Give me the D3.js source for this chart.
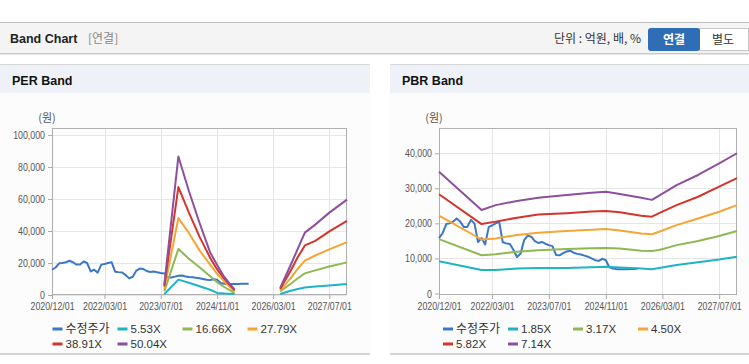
<!DOCTYPE html>
<html>
<head>
<meta charset="utf-8">
<script src="https://cdn.jsdelivr.net/npm/d3@7"></script>
<style>
    body { margin: 0; background: #fff; }
    svg { display: block; }
</style>
</head>
<body>
<svg id="chart" width="749" height="364"></svg>
<script>
// 수정주가 (monthly, from 2020/12)
const priceStart = '2020/12/01';
const price = [
    15800, 17200, 19800, 20000, 20500, 21400, 20500, 19000, 19000, 21000,
    20000, 14700, 15800, 14000, 19000, 19400, 20000, 20500, 14600, 14300,
    14100, 12400, 10400, 11400, 15200, 16500, 16200, 15000, 14400, 14700,
    14200, 13800, 13500, 11000, 10900, 11500, 12000, 12200, 11600, 11300,
    11100, 10800, 10500, 10000, 9500, 9300, 9900, 9500, 7500, 7100,
    6950, 6950, 6950, 6950, 7000, 7000, 7100
];

const xTicks = ['2020/12/01', '2022/03/01', '2023/07/01', '2024/11/01', '2026/03/01', '2027/07/01'];

// PER band
const perNames = ['수정주가', '5.53X', '16.66X', '27.79X', '38.91X', '50.04X'];
const perDates = ['2023/08', '2023/12', '2024/03', '2024/06', '2024/09', '2024/11', '2025/01', '2025/04', '2025/10',
                  '2026/05', '2026/08', '2026/10', '2026/12', '2027/03', '2027/07', '2027/12'];
const per553  = [500, 9600, 7700, 5500, 3300, 1300, 900, 600, null, 600, 2700, 3800, 4700, 5300, 6000, 6900];
const per1666 = [2250, 28750, 22700, 17300, 11700, 8000, 5000, 1300, null, 2250, 7000, 10500, 13500, 15400, 17800, 20400];
const per2779 = [3750, 48100, 38800, 27900, 19000, 13200, 8500, 2300, null, 2900, 10500, 16500, 21500, 24700, 28500, 33100];
const per3891 = [5400, 67500, 51500, 36500, 23300, 16000, 10300, 2900, null, 3750, 15300, 23700, 31000, 33800, 39800, 46400];
const per5004 = [6400, 86600, 65000, 45200, 26600, 18800, 11300, 3300, null, 4400, 18900, 29000, 39000, 44000, 51500, 59600];
const perYTicks = [0, 20000, 40000, 60000, 80000, 100000];

// PBR band
const pbrNames = ['수정주가', '1.85X', '3.17X', '4.50X', '5.82X', '7.14X'];
const pbrDates = ['2020/12', '2021/12', '2022/04', '2022/10', '2023/04', '2023/12', '2024/07', '2024/11',
                  '2025/03', '2025/09', '2025/12', '2026/02', '2026/07', '2027/01', '2027/07', '2027/12'];
const pbr185 = [9200, 6700, 6700, 7100, 7300, 7300, 7500, 7600, 7400, 7100, 6900, 7300, 8100, 8900, 9700, 10500];
const pbr317 = [15500, 10900, 11200, 11900, 12300, 12700, 12900, 13000, 12800, 12200, 12100, 12400, 13800, 15000, 16400, 17800];
const pbr450 = [22200, 15400, 15700, 16700, 17300, 17800, 18200, 18400, 18000, 17100, 16900, 17600, 19500, 21400, 23300, 25200];
const pbr582 = [28300, 19800, 20500, 21600, 22500, 22900, 23400, 23500, 23200, 22200, 21900, 22900, 25200, 27600, 30500, 32900];
const pbr714 = [34700, 23800, 25200, 26400, 27300, 28100, 28700, 29000, 28400, 27300, 26700, 27900, 30900, 33800, 37100, 40000];
const pbrYTicks = [0, 10000, 20000, 30000, 40000];

const colors = ['#3a77c9', '#1fb3c8', '#8fb852', '#f4a533', '#d3352c', '#8e4f9d'];

const parseDay   = d3.timeParse('%Y/%m/%d');
const parseMonth = d3.timeParse('%Y/%m');
const textFont   = "'Liberation Sans', Arial, 'Noto Sans CJK KR', sans-serif";
const krFont     = "'Noto Sans CJK KR', 'Liberation Sans', sans-serif";

const svg = d3.select('#chart');

// top bar
svg.append('rect').attr('x', 0).attr('y', 22).attr('width', 749).attr('height', 31).attr('fill', '#f4f4f4');
svg.append('line').attr('x1', 0).attr('x2', 749).attr('y1', 22.5).attr('y2', 22.5).attr('stroke', '#bdbdbd');
svg.append('line').attr('x1', 0).attr('x2', 749).attr('y1', 53.5).attr('y2', 53.5).attr('stroke', '#c9c9c9');
svg.append('line').attr('x1', 0).attr('x2', 749).attr('y1', 54.5).attr('y2', 54.5).attr('stroke', '#e8e8e8');
svg.append('text').attr('x', 10).attr('y', 43).attr('font-family', textFont).attr('font-weight', 'bold')
    .attr('font-size', 12.5).attr('fill', '#222').text('Band Chart');
svg.append('text').attr('x', 88).attr('y', 43).attr('font-family', krFont)
    .attr('font-size', 12).attr('fill', '#888').text('[연결]');
svg.append('text').attr('x', 641).attr('y', 43).attr('text-anchor', 'end').attr('font-family', krFont)
    .attr('font-size', 12).attr('fill', '#333').text('단위 : 억원, 배, %');
svg.append('rect').attr('x', 699.5).attr('y', 28.5).attr('width', 49).attr('height', 22)
    .attr('fill', '#fff').attr('stroke', '#c6c6c6');
svg.append('rect').attr('x', 648).attr('y', 28).attr('width', 52).attr('height', 23).attr('rx', 3)
    .attr('fill', '#2f6db6');
svg.append('text').attr('x', 674).attr('y', 44).attr('text-anchor', 'middle').attr('font-family', krFont)
    .attr('font-weight', 'bold').attr('font-size', 12).attr('fill', '#fff').text('연결');
svg.append('text').attr('x', 723).attr('y', 44).attr('text-anchor', 'middle').attr('font-family', krFont)
    .attr('font-size', 12).attr('fill', '#333').text('별도');

// narrow the tick labels (reference uses a condensed font)
function condense(sel, k) {
    sel.each(function () {
        const w = this.getComputedTextLength();
        d3.select(this).attr('textLength', w * k).attr('lengthAdjust', 'spacingAndGlyphs');
    });
}

function panel(opt) {
    const g = svg.append('g');
    g.append('rect').attr('x', opt.x0).attr('y', 93).attr('width', opt.x1 - opt.x0).attr('height', 261).attr('fill', '#fcfcfd');
    g.append('rect').attr('x', opt.x0).attr('y', 64).attr('width', opt.x1 - opt.x0).attr('height', 29).attr('fill', '#eef2f8');
    g.append('line').attr('x1', opt.x0).attr('x2', opt.x1).attr('y1', 64.5).attr('y2', 64.5).attr('stroke', '#d6d6d6');
    g.append('line').attr('x1', opt.x0).attr('x2', opt.x1).attr('y1', 354).attr('y2', 354).attr('stroke', '#d4d4d4').attr('stroke-width', 2);
    g.append('text').attr('x', opt.x0 + 12).attr('y', 85).attr('font-family', textFont).attr('font-weight', 'bold')
        .attr('font-size', 12.5).attr('fill', '#111').text(opt.title);

    const x = d3.scaleTime().domain([parseDay('2020/12/01'), parseDay('2027/12/01')]).range([opt.left, opt.right]);
    const y = d3.scaleLinear().domain([0, opt.yMax]).range([opt.bottom, opt.top]);

    g.append('rect').attr('x', opt.left).attr('y', opt.top).attr('width', opt.right - opt.left)
        .attr('height', opt.bottom0 - opt.top).attr('fill', '#fff');

    // grid
    g.selectAll('.hg').data(opt.yTicks).enter().append('line')
        .attr('x1', opt.left).attr('x2', opt.right)
        .attr('y1', d => Math.round(y(d)) + 0.5).attr('y2', d => Math.round(y(d)) + 0.5)
        .attr('stroke', '#e6e6e6');
    g.selectAll('.vg').data(xTicks.map(parseDay)).enter().append('line')
        .attr('x1', d => Math.round(x(d)) + 0.5).attr('x2', d => Math.round(x(d)) + 0.5)
        .attr('y1', opt.top).attr('y2', opt.bottom0)
        .attr('stroke', '#e6e6e6');

    // axes
    const ax = g.append('g').attr('transform', `translate(0,${opt.bottom0})`)
        .call(d3.axisBottom(x).tickValues(xTicks.map(parseDay)).tickFormat(d3.timeFormat('%Y/%m/%d')).tickSize(4).tickPadding(3));
    const ay = g.append('g').attr('transform', `translate(${opt.left},0)`)
        .call(d3.axisLeft(y).tickValues(opt.yTicks).tickFormat(d3.format(',')).tickSize(4).tickPadding(3));
    [ax, ay].forEach(a => {
        a.select('.domain').remove();
        a.selectAll('line').attr('stroke', '#aaa');
        a.selectAll('text').attr('fill', '#555').attr('font-family', textFont).attr('font-size', 11);
        condense(a.selectAll('text'), 0.8);
    });
    g.append('rect').attr('x', opt.left + 0.5).attr('y', opt.top + 0.5).attr('width', opt.right - opt.left - 1)
        .attr('height', opt.bottom0 - opt.top - 1).attr('fill', 'none').attr('stroke', '#b0b0b0');

    g.append('text').attr('x', opt.left - 5).attr('y', 122).attr('text-anchor', 'middle')
        .attr('font-family', krFont).attr('font-size', 11).attr('fill', '#555').text('(원)');

    // lines
    const line = d3.line().defined(d => d[1] !== null).x(d => x(d[0])).y(d => y(d[1]));
    const start = parseDay(priceStart);
    const priceData = price.map((v, i) => [d3.timeMonth.offset(start, i), v]);
    g.append('path').datum(priceData).attr('d', line).attr('fill', 'none')
        .attr('stroke', colors[0]).attr('stroke-width', 2).attr('stroke-linejoin', 'round');
    opt.bands.forEach((vals, i) => {
        const data = opt.dates.map((d, j) => [parseMonth(d), vals[j]]);
        g.append('path').datum(data).attr('d', line).attr('fill', 'none')
            .attr('stroke', colors[i + 1]).attr('stroke-width', 2).attr('stroke-linejoin', 'round');
    });

    // legend
    const lg = g.append('g');
    opt.names.forEach((n, i) => {
        const lx = opt.legendX + (i % 4) * opt.legendStep;
        const ly = 329 + Math.floor(i / 4) * 15;
        lg.append('line').attr('x1', lx).attr('x2', lx + 10).attr('y1', ly).attr('y2', ly)
            .attr('stroke', colors[i]).attr('stroke-width', 3);
        lg.append('text').attr('x', lx + 13).attr('y', ly + 4).attr('font-family', i === 0 ? krFont : textFont)
            .attr('font-size', i === 0 ? 12 : 11.5).attr('fill', '#333').text(n);
    });
}

panel({
    x0: 0, x1: 370, title: 'PER Band',
    left: 52, right: 347, top: 128, bottom: 295, bottom0: 295,
    yMax: 104400, yTicks: perYTicks,
    names: perNames, dates: perDates,
    bands: [per553, per1666, per2779, per3891, per5004],
    legendX: 52.5, legendStep: 65
});

panel({
    x0: 390, x1: 749, title: 'PBR Band',
    left: 439, right: 737, top: 128, bottom: 293.5, bottom0: 295,
    yMax: 47200, yTicks: pbrYTicks,
    names: pbrNames, dates: pbrDates,
    bands: [pbr185, pbr317, pbr450, pbr582, pbr714],
    legendX: 443, legendStep: 65
});
</script>
</body>
</html>
